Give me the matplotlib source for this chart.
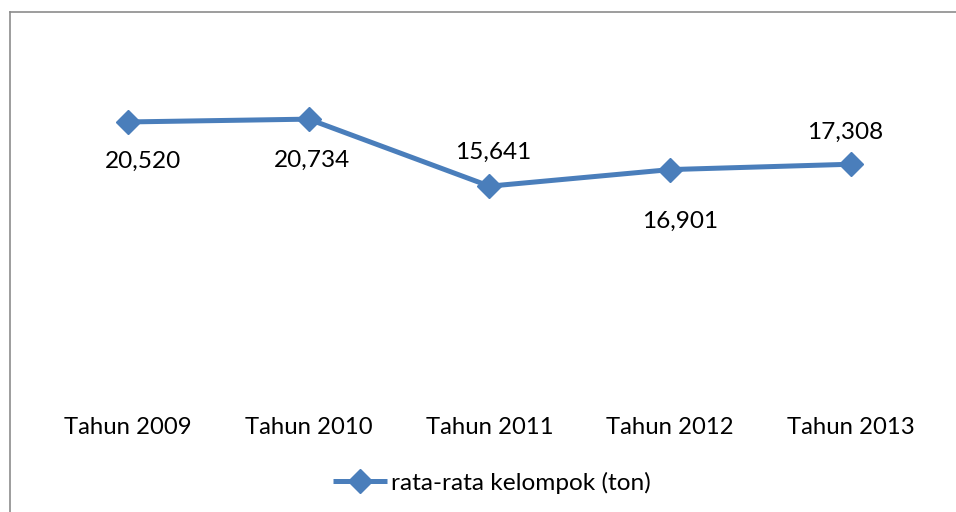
import matplotlib
matplotlib.use('Agg')
import matplotlib.pyplot as plt
from matplotlib.lines import Line2D

# data
categories = ['Tahun 2009', 'Tahun 2010', 'Tahun 2011', 'Tahun 2012', 'Tahun 2013']
values = [20.520, 20.734, 15.641, 16.901, 17.308]
value_labels = ['20,520', '20,734', '15,641', '16,901', '17,308']
series_name = 'rata-rata kelompok (ton)'

# label offsets in points (dx, dy), like Excel placed them
label_offsets = [(11, -28), (2, -30), (3, 24), (7, -37), (-4, 23)]

plt.rcParams['font.family'] = ['Lato', 'DejaVu Sans']

W, H = 956, 512
fig = plt.figure(figsize=(W / 100, H / 100), dpi=100)
ax = fig.add_axes([37.6 / W, (H - 392) / H, 903.75 / W, 329 / H])

color = '#4A7EBB'
x = list(range(len(categories)))
ax.plot(x, values, color=color, linewidth=3.6, marker='D', markersize=12,
        solid_capstyle='butt', label=series_name)

for xi, v, lab, (dx, dy) in zip(x, values, value_labels, label_offsets):
    ax.annotate(lab, (xi, v), xytext=(dx, dy), textcoords='offset points',
                ha='center', va='center', fontsize=17.6, color='black')

ax.set_xlim(-0.5, len(categories) - 0.5)
ax.set_ylim(0, 25)
ax.set_xticks(x)
ax.set_xticklabels(categories, fontsize=17.2)
ax.tick_params(axis='x', length=0, pad=18)
ax.set_yticks([])
for s in ax.spines.values():
    s.set_visible(False)

fig.legend(loc='center', bbox_to_anchor=(492 / W, 1 - 483 / H), frameon=False,
           fontsize=17.6, handlelength=2.2, handletextpad=0.2)

# outer chart frame (only left and top are visible in the crop)
frame_col = '#8c8c8c'
fig.add_artist(Line2D([9.5 / W, 9.5 / W], [0, 1 - 12 / H], color=frame_col, linewidth=1.2))
fig.add_artist(Line2D([9.5 / W, 1], [1 - 12 / H, 1 - 12 / H], color=frame_col, linewidth=1.2))

fig.savefig('out.png', dpi=100)
